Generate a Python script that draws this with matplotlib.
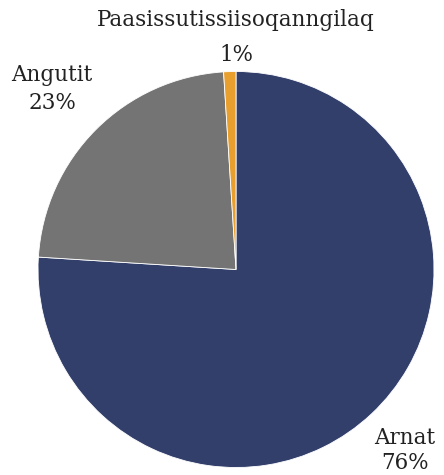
import matplotlib
matplotlib.use('Agg')
import matplotlib.pyplot as plt

labels = ['Arnat', 'Angutit', 'Paasissutissiisoqanngilaq']
values = [76, 23, 1]
colors = ['#323f6b', '#747474', '#e89f2e']

W, H = 444, 475
fig = plt.figure(figsize=(W / 100, H / 100), dpi=100)

cx, cy, r = 236, 269.5, 198
ax = fig.add_axes([(cx - r) / W, (H - cy - r) / H, 2 * r / W, 2 * r / H])
ax.pie(values, colors=colors, startangle=90, counterclock=False,
       wedgeprops=dict(linewidth=0.6, edgecolor='white'))
ax.set_xlim(-1, 1)
ax.set_ylim(-1, 1)
ax.set_aspect('equal')
ax.axis('off')

font = dict(family='DejaVu Serif', size=15.5, color='#222222', ha='center', va='center')
label_pos = [(405, 438, 463), (52, 75, 103), (236, 20, 55)]
for lab, val, (x, y1, y2) in zip(labels, values, label_pos):
    fig.text(x / W, 1 - y1 / H, lab, **font)
    fig.text(x / W, 1 - y2 / H, f'{val}%', **font)

fig.savefig('out.png', dpi=100)
